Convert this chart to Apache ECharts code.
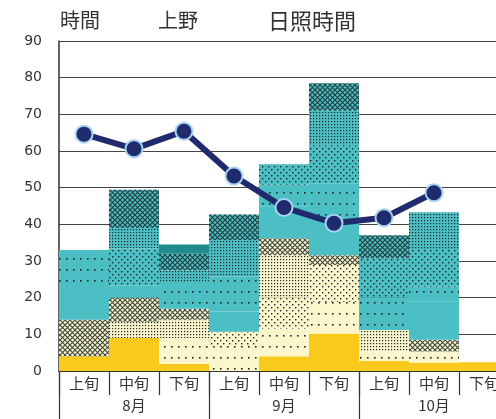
<!DOCTYPE html>
<html><head><meta charset="utf-8">
<script src="https://cdn.jsdelivr.net/npm/echarts@6/dist/echarts.min.js"></script>
<style>html,body{margin:0;padding:0;background:#fff}#c{width:496px;height:419px}</style>
</head><body><div id="c"></div>
<script>
const categories = ['上旬','中旬','下旬','上旬','中旬','下旬','上旬','中旬','下旬'];
const months = ['8月','9月','10月'];
const yTicks = [0,10,20,30,40,50,60,70,80,90];
const yellow     = [4, 9, 2, 0, 4, 10.2, 2.7, 2.3, 2.4];
const lySparse   = [0, 0, 7, 7, 7.6, 8.7, 2.6, 3, 0];
const lyMedium   = [0, 0, 0, 3.7, 8.4, 10, 0, 0, 0];
const lyDense    = [0, 4.4, 5, 0, 11.6, 0, 5.9, 0, 0];
const lyCross    = [10, 6.6, 3, 0, 4.6, 2.7, 0, 3.2, 0];
const tealSolid  = [10, 3.4, 0, 5.5, 8.6, 8.2, 0, 10.5, 0];
const tealSparse = [9, 0, 7, 9.5, 6, 11.4, 8.8, 4, 0];
const tealMedium = [0, 10, 0, 0, 5.6, 10.4, 10.7, 10, 0];
const tealDense  = [0, 5.6, 3.5, 10, 0, 9.4, 0, 10.3, 0];
const tealCross  = [0, 10.4, 4.5, 7, 0, 7.5, 6.3, 0, 0];
const tealDark   = [0, 0, 2.5, 0, 0, 0, 0, 0, 0];
const sunshine   = [64.6, 60.6, 65.4, 53.2, 44.6, 40.3, 41.8, 48.6, null];

const C_YEL = '#F9C91C', C_LY = '#FBF6CB', C_TEAL = '#4BBFC4', C_DTEAL = '#1F8B8D', C_DOT = '#1b2626';

function tile(bg, w, h, draw) {
  const c = document.createElement('canvas'); c.width = w; c.height = h;
  const g = c.getContext('2d'); g.fillStyle = bg; g.fillRect(0, 0, w, h);
  g.fillStyle = C_DOT; g.strokeStyle = C_DOT; draw(g);
  return { image: c, repeat: 'repeat' };
}
const sparse = bg => tile(bg, 7, 11, g => { g.fillRect(3, 5, 1.6, 1.6); });
const medium = bg => tile(bg, 6, 6, g => { g.fillRect(1, 1, 1.4, 1.4); g.fillRect(4, 4, 1.4, 1.4); });
const dense = bg => tile(bg, 3, 3, g => { g.fillRect(1, 1, 1.2, 1.2); });
const cross = bg => tile(bg, 5, 5, g => { g.lineWidth = 1.1; g.globalAlpha = 0.85; g.beginPath(); g.moveTo(0,0); g.lineTo(5,5); g.moveTo(5,0); g.lineTo(0,5); g.stroke(); });

const layers = [
  [yellow, C_YEL], [lySparse, sparse(C_LY)], [lyMedium, medium(C_LY)], [lyDense, dense(C_LY)], [lyCross, cross(C_LY)],
  [tealSolid, C_TEAL], [tealSparse, sparse(C_TEAL)], [tealMedium, medium(C_TEAL)], [tealDense, dense(C_TEAL)],
  [tealCross, cross(C_TEAL)], [tealDark, C_DTEAL]
];

const chart = echarts.init(document.getElementById('c'));
const font = '"Noto Sans CJK JP", sans-serif';
const tstyle = { fontFamily: font, fontSize: 20, fontWeight: 'normal', color: '#333' };
chart.setOption({
  animation: false,
  title: [
    { text: '時間', left: 55, top: 5, textStyle: tstyle },
    { text: '上野', left: 153, top: 5, textStyle: tstyle },
    { text: '日照時間', left: 263, top: 5, textStyle: Object.assign({}, tstyle, { fontSize: 22 }) }
  ],
  grid: { left: 59, top: 41, width: 450, height: 330, outerBoundsMode: 'none', containLabel: false },
  xAxis: [
    { type: 'category', data: categories, position: 'bottom',
      axisLine: { show: true, lineStyle: { color: '#333', width: 1.5 } },
      axisTick: { show: true, interval: 0, length: 24, lineStyle: { color: '#333', width: 1.2 } },
      axisLabel: { interval: 0, margin: 5, fontFamily: font, fontSize: 15, color: '#333' } },
    { type: 'category', data: months, position: 'bottom',
      axisLine: { show: false },
      axisTick: { show: true, interval: 0, length: 50, lineStyle: { color: '#333', width: 1.2 } },
      axisLabel: { interval: 0, margin: 27, fontFamily: font, fontSize: 15, color: '#333' } }
  ],
  yAxis: { type: 'value', min: yTicks[0], max: yTicks[yTicks.length - 1], interval: 10,
    axisLine: { show: true, lineStyle: { color: '#333', width: 1.5 } },
    axisTick: { show: false },
    axisLabel: { margin: 17, fontFamily: 'DejaVu Sans, sans-serif', fontSize: 14, color: '#333' },
    splitLine: { lineStyle: { color: '#444', width: 1.2 } } },
  series: layers.map(([d, col]) => ({
    type: 'bar', stack: 'a', data: d, barCategoryGap: '0%', itemStyle: { color: col }, z: 2
  })).concat([{
    type: 'line', data: sunshine, z: 5, symbol: 'circle', symbolSize: 17,
    lineStyle: { color: '#1F2B6C', width: 6 },
    itemStyle: { color: '#1F2B6C', borderColor: '#A6D3F2', borderWidth: 2 }
  }])
});
</script></body></html>
